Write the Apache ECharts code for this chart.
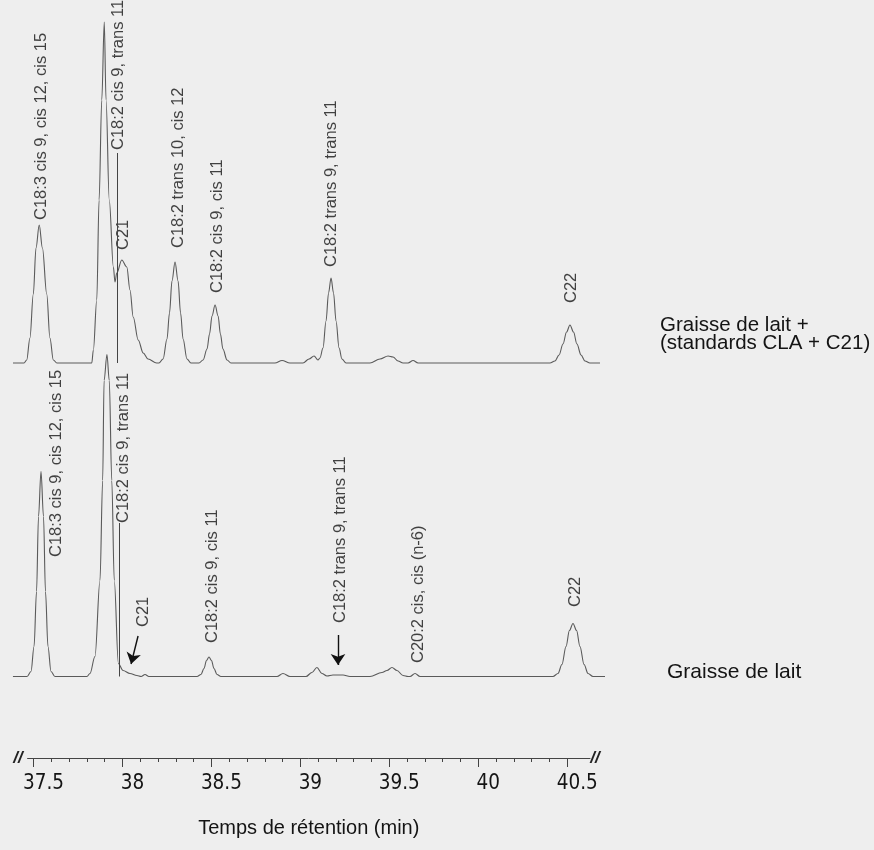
<!DOCTYPE html>
<html lang="fr">
<head>
<meta charset="UTF-8">
<title>Chromatogramme - graisse de lait</title>
<script src="https://cdn.jsdelivr.net/npm/echarts@6.0.0/dist/echarts.min.js"></script>
<style>
  html, body { margin: 0; padding: 0; background-color: #eeeeee; }
  #chart { width: 874px; height: 850px; }
</style>
</head>
<body>
<div id="chart"></div>
<script>
// ---------------- données ----------------
// temps (min) / signal (unités arbitraires) - trace du haut : graisse de lait + standards
const topTimes = [37.399, 37.461, 37.476, 37.494, 37.513, 37.528, 37.546, 37.564, 37.588, 37.606, 37.625, 37.645,
  37.820, 37.840, 37.849, 37.868, 37.881, 37.896, 37.910, 37.920, 37.938, 37.961, 37.970, 37.980, 38.008, 38.036,
  38.054, 38.072, 38.100, 38.128, 38.155, 38.203, 38.216, 38.239, 38.261, 38.275, 38.289, 38.306, 38.323, 38.337,
  38.351, 38.373, 38.395, 38.440, 38.463, 38.485, 38.499, 38.513, 38.530, 38.547, 38.560, 38.574, 38.597, 38.619,
  38.865, 38.905, 38.949, 39.022, 39.056, 39.084, 39.106, 39.117, 39.134, 39.151, 39.165, 39.179, 39.193, 39.207,
  39.224, 39.240, 39.263, 39.397, 39.453, 39.498, 39.526, 39.554, 39.582, 39.610, 39.638, 39.666, 40.404, 40.432,
  40.455, 40.477, 40.497, 40.516, 40.536, 40.555, 40.578, 40.600, 40.628, 40.684];
const topSignal = [0, 0, 3, 25, 69, 115, 138, 115, 69, 25, 3, 0,
  0, 0, 13, 63, 163, 263, 341, 263, 163, 96, 81, 90, 103, 96,
  73, 46, 23, 10, 4, 0, 0, 4, 24, 50, 82, 101, 82, 50,
  24, 4, 0, 0, 3, 14, 29, 47, 58, 47, 29, 14, 3, 0,
  0, 2.5, 0, 0, 4, 7, 3, 5, 15, 42, 70, 85, 70, 42,
  15, 4, 0, 0, 4, 7, 6, 2, 0, 0, 2.5, 0, 0, 2,
  8, 19, 31, 38, 31, 19, 8, 2, 0, 0];

// trace du bas : graisse de lait seule
const bottomTimes = [37.399, 37.478, 37.500, 37.517, 37.531, 37.542, 37.556, 37.570, 37.581, 37.595, 37.612, 37.634,
  37.813, 37.830, 37.858, 37.886, 37.901, 37.909, 37.925, 37.938, 37.952, 37.966, 37.989, 38.015, 38.054, 38.093,
  38.116, 38.138, 38.160, 38.429, 38.451, 38.468, 38.482, 38.496, 38.510, 38.524, 38.541, 38.563, 38.877, 38.910,
  38.949, 39.039, 39.072, 39.100, 39.128, 39.156, 39.190, 39.246, 39.285, 39.397, 39.464, 39.492, 39.520, 39.548,
  39.582, 39.610, 39.621, 39.649, 39.677, 40.421, 40.449, 40.471, 40.494, 40.513, 40.533, 40.553, 40.572, 40.595,
  40.617, 40.645, 40.712];
const bottomSignal = [0, 0, 5, 30, 85, 160, 205, 160, 85, 30, 5, 0,
  0, 3, 20, 96, 196, 296, 322, 296, 196, 96, 13, 6, 3, 1,
  0, 2, 0, 0, 2, 8, 16, 19.5, 16, 8, 2, 0, 0, 3,
  0, 0, 4, 9, 3, 0.5, 1.5, 1.5, 0, 0, 4, 6, 9, 6,
  1, 0, 0, 3, 0, 0, 3, 12, 30, 46, 53, 46, 30, 12,
  3, 0, 0];

// identification des pics (position du pied de l'étiquette)
const topPeakNames = ['C18:3 cis 9, cis 12, cis 15', 'C18:2 cis 9, trans 11', 'C21', 'C18:2 trans 10, cis 12',
  'C18:2 cis 9, cis 11', 'C18:2 trans 9, trans 11', 'C22'];
const topPeakTimes = [37.560, 37.992, 38.015, 38.323, 38.541, 39.184, 40.527];
const topPeakLevels = [143, 213, 113, 115, 70, 96, 60];

const bottomPeakNames = ['C18:3 cis 9, cis 12, cis 15', 'C18:2 cis 9, trans 11', 'C21', 'C18:2 cis 9, cis 11',
  'C18:2 trans 9, trans 11', 'C20:2 cis, cis (n-6)', 'C22'];
const bottomPeakTimes = [37.640, 38.015, 38.127, 38.513, 39.229, 39.666, 40.544];
const bottomPeakLevels = [119.5, 153.5, 49.5, 33.5, 53.5, 13.5, 69.5];

// traits verticaux sous l'étiquette C18:2 cis 9, trans 11 : [temps, haut]
const topLeader = [37.981, 210];
const bottomLeader = [37.992, 153.5];

// flèches (trace du bas) : [temps début, niveau début, temps fin, niveau fin]
const bottomArrows = [
  [38.099, 40.5, 38.060, 12.5],
  [39.218, 41.5, 39.218, 11.5]
];

const majorTicks = [37.5, 38, 38.5, 39, 39.5, 40, 40.5];
const minorTicks = [37.6, 37.7, 37.8, 37.9, 38.1, 38.2, 38.3, 38.4, 38.6, 38.7, 38.8, 38.9,
  39.1, 39.2, 39.3, 39.4, 39.6, 39.7, 39.8, 39.9, 40.1, 40.2, 40.3, 40.4];

// ---------------- mise en page ----------------
const PX_PER_MIN = 178.7;   // échelle horizontale
const X_37_5 = 31;          // pixel du repère 37.5
const pxToMin = (px) => 37.5 + (px - X_37_5) / PX_PER_MIN;

const TRACE_LEFT = 13, TRACE_RIGHT = 605;
const AXIS_LEFT = 25, AXIS_RIGHT = 590;
const PANEL_H = 341;        // hauteur (px) = 341 unités de signal

const traceColor = '#5a5a5a';
const textColor = '#141414';
const labelFont = '"Liberation Sans", Arial, sans-serif';

const zip = (a, b) => a.map((v, i) => [v, b[i]]);
const labelData = (t, l, n) => t.map((v, i) => [v, l[i], n[i]]);

function peakLabels(idx, data) {
  return {
    type: 'scatter',
    xAxisIndex: idx,
    yAxisIndex: idx,
    symbolSize: 0,
    silent: true,
    data: data,
    label: {
      show: true,
      position: 'inside',
      formatter: (p) => p.data[2],
      rotate: 90,
      align: 'left',
      verticalAlign: 'middle',
      fontFamily: labelFont,
      fontSize: 16.5,
      color: textColor
    }
  };
}

const chart = echarts.init(document.getElementById('chart'));

chart.setOption({
  animation: false,
  backgroundColor: '#eeeeee',
  grid: [
    { left: TRACE_LEFT, top: 22, width: TRACE_RIGHT - TRACE_LEFT, height: PANEL_H },
    { left: TRACE_LEFT, top: 335.5, width: TRACE_RIGHT - TRACE_LEFT, height: PANEL_H },
    { left: AXIS_LEFT, top: 700, width: AXIS_RIGHT - AXIS_LEFT, height: 58 }
  ],
  xAxis: [
    { gridIndex: 0, type: 'value', min: pxToMin(TRACE_LEFT), max: pxToMin(TRACE_RIGHT), show: false },
    { gridIndex: 1, type: 'value', min: pxToMin(TRACE_LEFT), max: pxToMin(TRACE_RIGHT), show: false },
    {
      gridIndex: 2, type: 'value', position: 'bottom', min: pxToMin(AXIS_LEFT), max: pxToMin(AXIS_RIGHT),
      axisLine: { lineStyle: { color: '#444', width: 1 } },
      axisTick: { customValues: majorTicks, length: 9, lineStyle: { color: '#444' } },
      axisLabel: {
        customValues: majorTicks,
        formatter: (v) => String(v),
        fontFamily: '"DejaVu Sans Condensed", "Liberation Sans", sans-serif',
        fontSize: 20.5,
        lineHeight: 21,
        margin: 15,
        padding: [0, 0, 0, 20],
        color: textColor
      },
      splitLine: { show: false },
      name: 'Temps de rétention (min)',
      nameLocation: 'middle',
      nameGap: 70,
      nameTextStyle: {
        fontFamily: labelFont, fontSize: 20, lineHeight: 20, verticalAlign: 'middle', color: textColor
      }
    },
    {
      gridIndex: 2, type: 'value', position: 'bottom', min: pxToMin(AXIS_LEFT), max: pxToMin(AXIS_RIGHT),
      axisLine: { show: false },
      axisTick: { customValues: minorTicks, length: 4, lineStyle: { color: '#444' } },
      axisLabel: { show: false },
      splitLine: { show: false }
    }
  ],
  yAxis: [
    { gridIndex: 0, type: 'value', min: 0, max: PANEL_H, show: false },
    { gridIndex: 1, type: 'value', min: 0, max: PANEL_H, show: false },
    { gridIndex: 2, type: 'value', min: 0, max: 1, show: false }
  ],
  series: [
    {
      type: 'line', xAxisIndex: 0, yAxisIndex: 0,
      data: zip(topTimes, topSignal),
      showSymbol: false, smooth: 0.35, smoothMonotone: 'x', clip: false,
      lineStyle: { color: traceColor, width: 1.1 },
      markLine: {
        silent: true, symbol: ['none', 'none'], label: { show: false },
        lineStyle: { type: 'solid', color: '#444', width: 1 },
        data: [[{ coord: [topLeader[0], topLeader[1]] }, { coord: [topLeader[0], 0] }]]
      }
    },
    {
      type: 'line', xAxisIndex: 1, yAxisIndex: 1,
      data: zip(bottomTimes, bottomSignal),
      showSymbol: false, smooth: 0.35, smoothMonotone: 'x', clip: false,
      lineStyle: { color: traceColor, width: 1.1 },
      markLine: {
        silent: true, symbol: ['none', 'none'], label: { show: false },
        lineStyle: { type: 'solid', color: '#444', width: 1 },
        data: [[{ coord: [bottomLeader[0], bottomLeader[1]] }, { coord: [bottomLeader[0], 0] }]]
      }
    },
    {
      // flèches
      type: 'line', xAxisIndex: 1, yAxisIndex: 1, data: [], silent: true,
      markLine: {
        silent: true, symbol: ['none', 'arrow'], symbolSize: 11, label: { show: false },
        lineStyle: { type: 'solid', color: '#111', width: 1.4 },
        data: bottomArrows.map((a) => [{ coord: [a[0], a[1]] }, { coord: [a[2], a[3]] }])
      }
    },
    peakLabels(0, labelData(topPeakTimes, topPeakLevels, topPeakNames)),
    peakLabels(1, labelData(bottomPeakTimes, bottomPeakLevels, bottomPeakNames))
  ],
  graphic: [
    {
      type: 'text', left: 660, top: 315,
      style: { text: 'Graisse de lait +\n(standards CLA + C21)', font: '20.5px "Liberation Sans"', fill: textColor, lineHeight: 17.5 }
    },
    {
      type: 'text', left: 667, top: 661.5,
      style: { text: 'Graisse de lait', font: '21px "Liberation Sans"', fill: textColor, lineHeight: 21 }
    },
    {
      type: 'text', x: 18, y: 758,
      style: { text: '//', align: 'center', verticalAlign: 'middle', font: 'italic bold 17px "Liberation Sans"', fill: '#222' }
    },
    {
      type: 'text', x: 595, y: 758,
      style: { text: '//', align: 'center', verticalAlign: 'middle', font: 'italic bold 17px "Liberation Sans"', fill: '#222' }
    }
  ]
});
</script>
</body>
</html>
